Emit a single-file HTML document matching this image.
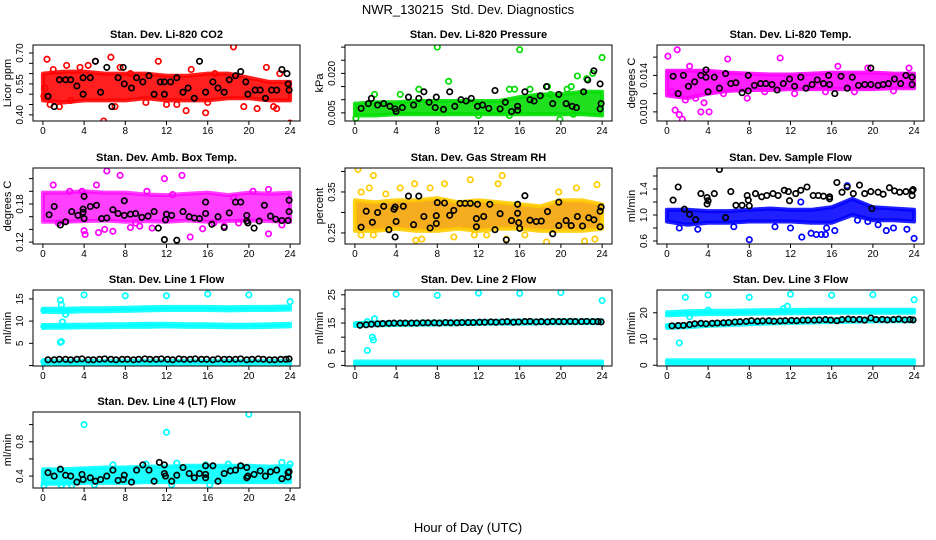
<!DOCTYPE html>
<html><head><meta charset="utf-8"><title>NWR_130215 Std. Dev. Diagnostics</title>
<style>html,body{margin:0;padding:0;background:#fff}svg{display:block;font-family:"Liberation Sans",Arial,sans-serif}</style>
</head><body>
<svg id="chart" width="936" height="540" viewBox="0 0 936 540" xmlns="http://www.w3.org/2000/svg">
<rect x="0" y="0" width="936" height="540" fill="#fff"/>
<text x="468" y="14" font-size="13" text-anchor="middle">NWR_130215&#160; Std. Dev. Diagnostics</text>
<text x="468" y="532" font-size="13" text-anchor="middle">Hour of Day (UTC)</text>
</svg>
<script>
// ---- shared ----
const hourTicks = [0,4,8,12,16,20,24];
const bandHours = [0,2,4,6,8,10,12,14,16,18,20,22,24];
const blackHours = [0.5,1.1,1.6,2.2,2.7,3.3,3.8,4.4,4.9,5.5,6,6.6,7.1,7.7,8.2,8.8,9.3,9.9,10.4,11,11.5,12.1,12.6,13.2,13.7,14.3,14.8,15.4,15.9,16.5,17,17.6,18.1,18.7,19.2,19.8,20.3,20.9,21.4,22,22.5,23.1,23.6,23.9];

// ---- CO2 ----
const co2Lo = [0.47,0.46,0.47,0.47,0.47,0.48,0.47,0.47,0.47,0.48,0.48,0.47,0.47];
const co2Hi = [0.60,0.61,0.61,0.60,0.60,0.60,0.59,0.59,0.60,0.60,0.58,0.56,0.56];
const co2Pts = [[0.4,0.67],[1,0.62],[2.3,0.64],[3.6,0.63],[4.4,0.64],[5.1,0.66],[5.9,0.37],[6.6,0.68],[7.5,0.63],[8.5,0.6],[11.2,0.66],[13,0.45],[13.9,0.42],[14.4,0.62],[15.8,0.41],[16.7,0.6],[18.5,0.73],[19.5,0.44],[20.8,0.43],[21.7,0.63],[22.4,0.44],[22.7,0.43],[24,0.36],[1.6,0.44],[0.7,0.45],[2.7,0.47],[7,0.44],[10,0.46],[12,0.45],[16,0.46],[23,0.6],[0.1,0.49],[0.2,0.53]];
const co2Black = [[0.5,0.49],[1.1,0.44],[1.6,0.57],[2.2,0.57],[2.7,0.57],[3.3,0.54],[3.9,0.58],[3.9,0.5],[4.6,0.58],[5.1,0.66],[5.6,0.51],[6.2,0.63],[6.7,0.44],[7.3,0.58],[7.8,0.63],[7.9,0.55],[8.6,0.53],[9.1,0.58],[9.7,0.56],[10.3,0.59],[10.8,0.5],[11.4,0.56],[11.8,0.56],[11.8,0.5],[12.4,0.56],[13,0.58],[13.6,0.51],[14.1,0.53],[14.7,0.48],[15.2,0.66],[15.8,0.51],[16.5,0.56],[17,0.53],[17.6,0.51],[18.1,0.57],[18.7,0.59],[19.2,0.61],[19.7,0.56],[19.9,0.5],[20.6,0.52],[21.1,0.52],[21.6,0.48],[22.2,0.52],[22.7,0.52],[23.2,0.62],[23.7,0.6],[23.9,0.52],[23.8,0.55]];

// ---- Pressure ----
const prsLo = [0.004,0.004,0.0045,0.0045,0.0045,0.0045,0.0045,0.0045,0.0045,0.0045,0.0045,0.0045,0.004];
const prsHi = [0.0085,0.009,0.009,0.0095,0.0095,0.0095,0.0095,0.0095,0.011,0.012,0.012,0.013,0.013];
const prsPts = [[8,0.030],[16,0.029],[24,0.026],[9.1,0.017],[6.2,0.014],[1.9,0.012],[4.4,0.012],[15.5,0.014],[15,0.014],[21.6,0.019],[22.5,0.018],[23.1,0.020],[0.1,0.003],[19.9,0.0025],[18.7,0.015],[21,0.015],[19,0.012],[12,0.004],[15,0.004],[21.2,0.0045],[17,0.014],[20.6,0.014]];
const prsBlack = [[0.6,0.0067],[1.3,0.0085],[1.6,0.0105],[2.2,0.008],[2.8,0.0085],[3.4,0.0075],[3.9,0.0065],[4,0.0055],[4.6,0.007],[5.2,0.011],[5.7,0.008],[6.2,0.0105],[6.7,0.013],[7.2,0.009],[7.8,0.007],[7.9,0.011],[8.6,0.0063],[9.2,0.013],[9.7,0.0075],[10.3,0.010],[10.8,0.0095],[11.3,0.0105],[11.9,0.0075],[12.4,0.008],[13,0.0067],[13.6,0.0135],[14.1,0.0065],[14.6,0.009],[15.2,0.0055],[15.8,0.006],[15.8,0.0075],[16.5,0.013],[17,0.010],[17.4,0.0095],[18,0.0115],[18.6,0.015],[19.2,0.0085],[19.8,0.012],[20.5,0.0085],[21.1,0.0075],[21.5,0.007],[22.2,0.013],[22.6,0.0175],[23.2,0.021],[23.8,0.016],[23.9,0.0085],[23.8,0.0065]];

// ---- Li-820 Temp ----
const tmpLo = [0.0118,0.0115,0.0120,0.0123,0.0124,0.0124,0.0125,0.0125,0.0125,0.0125,0.0125,0.0126,0.0126];
const tmpHi = [0.0145,0.0145,0.0145,0.0143,0.0142,0.0141,0.0141,0.0142,0.0143,0.0143,0.0143,0.0142,0.0142];
const tmpPts = [[0.1,0.0161],[1,0.0168],[0.8,0.0102],[1.2,0.0097],[1.5,0.0092],[3.3,0.0100],[4.1,0.0100],[2.2,0.0150],[5.9,0.0158],[11,0.0159],[5.5,0.0120],[7.8,0.0115],[12.4,0.012],[9.5,0.0122],[16.6,0.0150],[19.5,0.0148],[23.5,0.0148],[22,0.0123],[18.2,0.0122],[15.4,0.0122],[1.8,0.0113],[3.6,0.011],[0.5,0.0122],[2.8,0.0115]];
const tmpBlack = [[0.6,0.0139],[1.1,0.0120],[1.6,0.0140],[2.1,0.0128],[2.7,0.0133],[3.3,0.0140],[3.8,0.0146],[3.8,0.0138],[4,0.0122],[4.6,0.0138],[5.1,0.0126],[5.7,0.0142],[6.2,0.0131],[6.7,0.0132],[7.3,0.0121],[7.9,0.0140],[7.9,0.0123],[8.5,0.0129],[9.1,0.0131],[9.6,0.0131],[10.2,0.0130],[10.7,0.0124],[11.3,0.0131],[11.9,0.0136],[12.4,0.0128],[13,0.0138],[13.5,0.0126],[14.1,0.0130],[14.6,0.0135],[15.2,0.0131],[15.7,0.0140],[15.8,0.0130],[16.3,0.0120],[16.9,0.0139],[17.5,0.0126],[18,0.0138],[18.6,0.0129],[19.2,0.0130],[19.8,0.0148],[19.8,0.0130],[20.5,0.0129],[21,0.0130],[21.5,0.0131],[22.1,0.0136],[22.7,0.0131],[23.2,0.0140],[23.8,0.0138],[23.8,0.0130]];

// ---- Amb Box Temp ----
const ambLo = [0.152,0.152,0.153,0.154,0.152,0.153,0.152,0.154,0.152,0.153,0.154,0.153,0.152];
const ambHi = [0.198,0.198,0.2,0.198,0.198,0.195,0.194,0.196,0.198,0.194,0.198,0.196,0.198];
const ambPts = [[6.2,0.232],[7.5,0.225],[5.2,0.21],[13.5,0.225],[11.8,0.22],[4,0.138],[4.1,0.132],[5.4,0.135],[6,0.14],[6.8,0.137],[8.5,0.143],[9.4,0.145],[10.1,0.2],[10.6,0.142],[14.3,0.128],[15.5,0.141],[17.6,0.145],[20.4,0.2],[21.9,0.203],[21.9,0.133],[23.2,0.147],[3.8,0.2],[1,0.21],[2.6,0.2],[18.5,0.19],[12.6,0.195],[1.5,0.15],[9,0.15],[16.6,0.15],[19,0.15]];
const ambBlack = [[0.6,0.163],[1.1,0.176],[1.7,0.147],[2.2,0.152],[2.8,0.168],[3.4,0.162],[3.9,0.172],[3.9,0.167],[4,0.157],[4,0.192],[4.6,0.176],[5.2,0.178],[5.7,0.157],[6.2,0.158],[6.8,0.171],[7.3,0.165],[7.9,0.185],[7.9,0.162],[8.5,0.164],[9,0.165],[9.6,0.159],[10.2,0.161],[10.8,0.168],[11.2,0.142],[11.8,0.124],[11.9,0.155],[12,0.164],[12.5,0.162],[13,0.123],[13.6,0.168],[14.2,0.16],[14.7,0.158],[15.2,0.157],[15.8,0.183],[15.8,0.165],[16.4,0.148],[17,0.16],[17.6,0.143],[18.1,0.166],[18.7,0.183],[19.2,0.183],[19.8,0.162],[19.8,0.153],[19.9,0.15],[20.5,0.142],[21,0.153],[21.5,0.178],[22.1,0.161],[22.6,0.156],[23.2,0.154],[23.8,0.154],[23.9,0.186],[23.9,0.168]];

// ---- Gas Stream RH ----
const rhLo = [0.255,0.255,0.26,0.255,0.255,0.26,0.255,0.26,0.26,0.255,0.255,0.255,0.26];
const rhHi = [0.33,0.325,0.33,0.33,0.335,0.325,0.33,0.325,0.32,0.315,0.33,0.33,0.32];
const rhPts = [[0.3,0.405],[0.6,0.35],[1.4,0.36],[1.8,0.39],[5.8,0.37],[7.3,0.36],[8.7,0.37],[11.2,0.38],[13.9,0.37],[14.3,0.39],[23.5,0.368],[21.5,0.36],[0.6,0.245],[1.8,0.245],[5.9,0.232],[6.5,0.235],[9.6,0.24],[11.6,0.245],[18.6,0.228],[22.3,0.23],[23.3,0.235],[14.7,0.235],[19.8,0.35],[4.4,0.36],[3,0.345],[12.8,0.245],[16.5,0.245]];
const rhBlack = [[0.6,0.264],[1.1,0.303],[1.7,0.276],[2.2,0.3],[2.8,0.315],[3.3,0.258],[3.8,0.308],[3.9,0.24],[3.9,0.313],[4,0.278],[4.7,0.315],[5.2,0.34],[5.7,0.27],[6.2,0.34],[6.7,0.29],[7.3,0.262],[7.9,0.292],[7.9,0.273],[8,0.324],[8.7,0.323],[9.2,0.293],[9.6,0.305],[10.2,0.322],[10.7,0.322],[11.2,0.322],[11.8,0.285],[11.9,0.32],[11.8,0.265],[12.5,0.29],[13.1,0.32],[13.6,0.258],[14.1,0.297],[14.7,0.233],[15.2,0.28],[15.8,0.32],[15.8,0.298],[15.9,0.275],[16,0.261],[16.5,0.341],[17,0.281],[17.6,0.278],[18.1,0.279],[18.7,0.302],[19.2,0.248],[19.8,0.268],[19.8,0.325],[20.5,0.28],[21,0.268],[21.6,0.29],[22.1,0.267],[22.7,0.287],[23.2,0.282],[23.8,0.303],[23.9,0.313],[23.8,0.265]];

// ---- Sample Flow ----
const sfLo = [0.9,0.85,0.88,0.88,0.9,0.9,0.9,0.88,0.88,1.0,0.92,0.92,0.9];
const sfHi = [1.08,1.08,1.06,1.06,1.08,1.1,1.08,1.08,1.12,1.25,1.12,1.1,1.08];
const sfPts = [[8,0.62],[13.1,0.66],[14.5,0.7],[15,0.7],[15.4,0.7],[24,0.64],[17.5,1.45],[21.3,0.76],[23.3,0.78],[16.3,0.76],[14,0.72],[13,1.2],[15.5,0.8],[1.2,0.8],[3,0.78],[6.5,0.82],[10.5,0.82],[12,0.8],[18.5,0.92],[19.5,0.9],[20.5,0.85],[22,0.8]];
const sfBlack = [[0.6,1.23],[1.1,1.43],[1.7,1.09],[2.2,1.01],[2.8,0.93],[3.3,1.33],[3.9,1.27],[3.9,1.17],[4,1.22],[4.6,1.33],[5.1,1.7],[5.7,0.96],[6.2,1.36],[6.7,1.15],[7.3,1.15],[7.8,1.3],[7.9,1.23],[8,1.14],[8.6,1.33],[9.2,1.28],[9.7,1.3],[10.3,1.33],[10.8,1.3],[11.4,1.38],[11.8,1.36],[11.9,1.22],[12.5,1.33],[13,1.38],[13.6,1.43],[14.2,1.3],[14.7,1.3],[15.2,1.29],[15.8,1.28],[15.8,1.25],[16.5,1.5],[17,1.35],[17.5,1.43],[18.1,1.33],[18.7,1.46],[19.2,1.33],[19.8,1.36],[19.9,1.1],[20.5,1.35],[21,1.32],[21.6,1.42],[22.1,1.37],[22.6,1.35],[23.2,1.36],[23.8,1.37],[23.9,1.39],[23.8,1.3]];

// ---- Line 1 Flow ----
const l1aLo = [12.1,12.0,12.2,12.2,12.3,12.4,12.5,12.5,12.5,12.4,12.5,12.5,12.6];
const l1aHi = [12.8,12.8,12.9,12.9,13.0,13.1,13.2,13.2,13.2,13.1,13.2,13.2,13.3];
const l1bLo = [8.5,8.5,8.6,8.6,8.7,8.7,8.8,8.7,8.7,8.6,8.6,8.7,8.8];
const l1bHi = [9.1,9.2,9.2,9.3,9.3,9.4,9.4,9.3,9.3,9.2,9.2,9.3,9.4];
const l1cLo = [0.4,0.4,0.4,0.4,0.4,0.4,0.4,0.4,0.4,0.4,0.4,0.4,0.4];
const l1cHi = [1.0,1.0,1.0,1.0,1.0,1.0,1.0,1.0,1.0,1.0,1.0,1.0,1.0];
const l1Pts = [[1.7,14.7],[1.8,13.7],[1.7,5.2],[1.8,5.4],[4,15.9],[8,15.7],[12,15.7],[16,16.1],[20,15.9],[24,14.4],[2.2,11.5],[1.9,9.8],[0.1,12.4],[0.1,8.8],[0.1,0.9]];
const l1Black = [1.3,1.3,1.4,1.4,1.3,1.4,1.5,1.3,1.3,1.4,1.5,1.4,1.3,1.4,1.4,1.3,1.4,1.5,1.4,1.4,1.5,1.4,1.3,1.5,1.4,1.4,1.5,1.4,1.4,1.3,1.5,1.4,1.4,1.4,1.5,1.3,1.4,1.5,1.4,1.3,1.3,1.4,1.4,1.5];

// ---- Line 2 Flow ----
const l2aLo = [14.0,14.2,14.3,14.4,14.5,14.6,14.7,14.8,14.8,14.9,14.9,15.0,15.0];
const l2aHi = [15.0,15.2,15.3,15.4,15.5,15.6,15.7,15.8,15.9,15.9,16.0,16.0,16.0];
const l2bLo = [0.2,0.2,0.2,0.2,0.2,0.2,0.2,0.2,0.2,0.2,0.2,0.2,0.2];
const l2bHi = [1.4,1.4,1.4,1.4,1.4,1.4,1.4,1.4,1.4,1.4,1.4,1.4,1.4];
const l2Pts = [[0.2,14.5],[1.2,5.3],[1.7,10],[1.8,9],[1.9,16.5],[4,25.2],[8,24.8],[12,25.6],[16,25.5],[20,25.8],[24,23],[1.2,15.5]];
const l2Black = [14.2,14.4,14.6,14.7,14.8,14.9,15.0,15.0,15.0,15.0,15.0,15.1,15.1,15.1,15.0,15.2,15.1,15.1,15.2,15.2,15.2,15.3,15.3,15.4,15.3,15.4,15.5,15.3,15.4,15.5,15.6,15.4,15.5,15.4,15.6,15.5,15.5,15.6,15.5,15.5,15.6,15.5,15.5,15.4];

// ---- Line 3 Flow ----
const l3aLo = [19.0,19.3,19.5,19.5,19.6,19.7,19.8,19.9,20.0,20.0,20.0,20.0,20.0];
const l3aHi = [20.2,20.6,20.8,20.8,20.9,21.0,21.1,21.2,21.2,21.2,21.2,21.2,21.2];
const l3bLo = [14.3,14.5,15.0,15.3,15.6,15.9,16.1,16.3,16.5,16.6,16.7,16.8,16.8];
const l3bHi = [15.3,15.6,16.0,16.3,16.6,16.9,17.1,17.3,17.5,17.6,17.7,17.8,17.8];
const l3cLo = [0.6,0.6,0.6,0.6,0.6,0.6,0.6,0.6,0.6,0.6,0.6,0.6,0.6];
const l3cHi = [1.9,1.9,1.9,1.9,1.9,1.9,1.9,1.9,1.9,1.9,1.9,1.9,1.9];
const l3Pts = [[0.2,14.8],[1.2,8.5],[1.8,25.9],[4,26.8],[8,25.9],[12,27.1],[16,26.7],[20,26.9],[24,25],[11.3,21.5],[11.7,22.5],[2.2,18.5],[4,21]];
const l3Black = [15.0,15.1,15.2,15.5,15.8,16.0,15.8,16.0,16.1,16.2,16.3,16.5,16.6,16.7,17.0,16.8,16.9,17.0,16.8,16.9,17.0,17.1,17.0,17.2,17.2,17.2,17.3,17.4,17.2,17.0,17.4,17.6,17.4,17.5,17.2,18.0,17.4,17.5,17.3,17.4,17.6,17.3,17.4,17.3];

// ---- Line 4 Flow ----
const l4Lo = [0.31,0.31,0.32,0.32,0.32,0.33,0.33,0.33,0.33,0.33,0.33,0.33,0.33];
const l4Hi = [0.48,0.48,0.49,0.5,0.5,0.51,0.51,0.52,0.52,0.52,0.52,0.51,0.52];
const l4Pts = [[4,1.0],[12,0.91],[20,1.12],[0.1,0.29],[1.8,0.29],[2.8,0.29],[23.2,0.56],[24,0.54],[6.8,0.53],[10,0.54],[13,0.55],[15.8,0.53],[18,0.54],[5,0.3],[12.5,0.3],[16.2,0.3]];
const l4Black = [[0.5,0.44],[1.1,0.4],[1.7,0.48],[2.2,0.41],[2.7,0.4],[3.3,0.33],[3.8,0.42],[3.9,0.36],[4.6,0.38],[5.1,0.34],[5.6,0.36],[6.2,0.4],[6.8,0.47],[7.3,0.35],[7.9,0.41],[7.8,0.36],[8.6,0.33],[9.1,0.47],[9.7,0.53],[10.3,0.47],[10.8,0.34],[11.3,0.56],[11.8,0.53],[11.8,0.43],[11.9,0.4],[12.5,0.34],[13,0.41],[13.6,0.5],[14.2,0.43],[14.7,0.38],[15.2,0.43],[15.8,0.52],[15.8,0.38],[15.8,0.42],[16.5,0.52],[17,0.34],[17.6,0.43],[18.2,0.46],[18.7,0.47],[19.2,0.52],[19.8,0.5],[19.8,0.38],[19.9,0.4],[20.5,0.42],[21.1,0.46],[21.6,0.4],[22.1,0.45],[22.7,0.47],[23.2,0.37],[23.8,0.39],[23.9,0.45],[23.8,0.44]];

// ---- tick arrays ----
const co2Ticks=[0.40,0.45,0.50,0.55,0.60,0.65,0.70], co2Labels=["0.40","","","0.55","","","0.70"];
const prsTicks=[0.005,0.010,0.015,0.020,0.025,0.030], prsLabels=["0.005","","","0.020","",""];
const tmpTicks=[0.010,0.012,0.014,0.016], tmpLabels=["0.010","","0.014",""];
const ambTicks=[0.12,0.14,0.16,0.18,0.20,0.22], ambLabels=["0.12","","","0.18","",""];
const rhTicks=[0.25,0.30,0.35,0.40], rhLabels=["0.25","","0.35",""];
const sfTicks=[0.6,0.8,1.0,1.2,1.4,1.6], sfLabels=["0.6","","1.0","","1.4",""];
const l1Ticks=[0,5,10,15], l1Labels=["","5","10","15"];
const l2Ticks=[0,5,10,15,20,25], l2Labels=["0","5","","15","","25"];
const l3Ticks=[0,10,20], l3Labels=["0","10","20"];
const l4Ticks=[0.4,0.6,0.8,1.0], l4Labels=["0.4","","0.8",""];

// ---- layout (not data) ----
const NS="http://www.w3.org/2000/svg";
const svg=document.getElementById('chart');
const colLeft=[33,345,657], rowTop=[45,168,290,412], boxW=267, boxH=76;
function mk(tag,attrs,parent){const e=document.createElementNS(NS,tag);for(const k in attrs)e.setAttribute(k,attrs[k]);(parent||svg).appendChild(e);return e;}

const panels=[
 {key:'co2',title:'Stan. Dev. Li-820 CO2',ylab:'Licor ppm',c:0,r:0,ymin:0.37,ymax:0.739,col:'#ff0000',bands:[[co2Lo,co2Hi]],pts:co2Pts,black:co2Black,ticks:co2Ticks,labels:co2Labels},
 {key:'pressure',title:'Stan. Dev. Li-820 Pressure',ylab:'kPa',c:1,r:0,ymin:0.0019,ymax:0.0308,col:'#00dd00',bands:[[prsLo,prsHi]],pts:prsPts,black:prsBlack,ticks:prsTicks,labels:prsLabels},
 {key:'li820-temp',title:'Stan. Dev. Li-820 Temp.',ylab:'degrees C',c:2,r:0,ymin:0.009,ymax:0.01733,col:'#ff00ff',bands:[[tmpLo,tmpHi]],pts:tmpPts,black:tmpBlack,ticks:tmpTicks,labels:tmpLabels},
 {key:'amb-box-temp',title:'Stan. Dev. Amb. Box Temp.',ylab:'degrees C',c:0,r:1,ymin:0.117,ymax:0.2367,col:'#ff00ff',op:0.75,bands:[[ambLo,ambHi]],pts:ambPts,black:ambBlack,ticks:ambTicks,labels:ambLabels},
 {key:'gas-stream-rh',title:'Stan. Dev. Gas Stream RH',ylab:'percent',c:1,r:1,ymin:0.223,ymax:0.4085,col:'#f4a000',pc:'#ffcc00',bands:[[rhLo,rhHi]],pts:rhPts,black:rhBlack,ticks:rhTicks,labels:rhLabels},
 {key:'sample-flow',title:'Stan. Dev. Sample Flow',ylab:'ml/min',c:2,r:1,ymin:0.554,ymax:1.723,col:'#0000ff',bands:[[sfLo,sfHi]],pts:sfPts,black:sfBlack,ticks:sfTicks,labels:sfLabels},
 {key:'line1-flow',title:'Stan. Dev. Line 1 Flow',ylab:'ml/min',c:0,r:2,ymin:-0.1,ymax:17,col:'#00ffff',bands:[[l1aLo,l1aHi],[l1bLo,l1bHi],[l1cLo,l1cHi]],pts:l1Pts,blackY:l1Black,ticks:l1Ticks,labels:l1Labels},
 {key:'line2-flow',title:'Stan. Dev. Line 2 Flow',ylab:'ml/min',c:1,r:2,ymin:-0.2,ymax:26.7,col:'#00ffff',bands:[[l2aLo,l2aHi],[l2bLo,l2bHi]],pts:l2Pts,blackY:l2Black,ticks:l2Ticks,labels:l2Labels},
 {key:'line3-flow',title:'Stan. Dev. Line 3 Flow',ylab:'ml/min',c:2,r:2,ymin:-0.3,ymax:28.7,col:'#00ffff',bands:[[l3aLo,l3aHi],[l3bLo,l3bHi],[l3cLo,l3cHi]],pts:l3Pts,blackY:l3Black,ticks:l3Ticks,labels:l3Labels},
 {key:'line4-flow',title:'Stan. Dev. Line 4 (LT) Flow',ylab:'ml/min',c:0,r:3,ymin:0.261,ymax:1.147,col:'#00ffff',bands:[[l4Lo,l4Hi]],pts:l4Pts,black:l4Black,ticks:l4Ticks,labels:l4Labels}
];

panels.forEach(p=>{
  const L=colLeft[p.c], T=rowTop[p.r];
  const xs=h=>L+(h+0.96)/25.92*boxW;
  const ys=v=>T+boxH-(v-p.ymin)/(p.ymax-p.ymin)*boxH;
  const g=mk('g',{});
  
  
  const clip=mk('clipPath',{id:'clip-'+p.key},g);
  mk('rect',{x:L,y:T,width:boxW,height:boxH},clip);
  const plot=mk('g',{'clip-path':'url(#clip-'+p.key+')'},g);
  p.bands.forEach((b,bi)=>{
    let d='';
    bandHours.forEach((h,i)=>{d+=(i?'L':'M')+xs(h).toFixed(1)+','+ys(b[1][i]).toFixed(1);});
    for(let i=bandHours.length-1;i>=0;i--) d+='L'+xs(bandHours[i]).toFixed(1)+','+ys(b[0][i]).toFixed(1);
    const path=mk('path',{d:d+'Z',fill:p.col,stroke:p.pc||p.col,'stroke-width':4,'stroke-linejoin':'round','fill-opacity':p.op||0.88,'stroke-opacity':p.op||0.88},plot);
    
    
  });
  p.pts.forEach(pt=>{
    const c=mk('circle',{cx:xs(pt[0]).toFixed(1),cy:ys(pt[1]).toFixed(1),r:2.7,fill:'none',stroke:p.pc||p.col,'stroke-width':1.7},plot);
    
    
  });
  const blk=p.black||(p.blackY?blackHours.map((h,i)=>[h,p.blackY[i]]):[]);
  blk.forEach(pt=>{
    const c=mk('circle',{cx:xs(pt[0]).toFixed(1),cy:ys(pt[1]).toFixed(1),r:2.7,fill:'none',stroke:'#000','stroke-width':1.7},plot);
    
    
  });
  const box=mk('rect',{x:L,y:T,width:boxW,height:boxH,fill:'none',stroke:'#000','stroke-width':1},g);
  
  
  const t=mk('text',{x:L+boxW/2,y:T-7,'font-size':11,'font-weight':'bold','text-anchor':'middle'},g);
  t.textContent=p.title;
  
  
  const yt=mk('text',{x:0,y:0,'font-size':11,'text-anchor':'middle',transform:'translate('+(L-22)+','+(T+boxH/2)+') rotate(-90)'},g);
  yt.textContent=p.ylab;
  
  
  hourTicks.forEach(h=>{
    const x=xs(h);
    mk('line',{x1:x,x2:x,y1:T+boxH,y2:T+boxH+4,stroke:'#000','stroke-width':1},g);
    const tl=mk('text',{x:x,y:T+boxH+13,'font-size':10,'text-anchor':'middle'},g);
    tl.textContent=String(h);
    
    
  });
  p.ticks.forEach((v,i)=>{
    const y=ys(v);
    mk('line',{x1:L-4,x2:L,y1:y,y2:y,stroke:'#000','stroke-width':1},g);
    if(p.labels[i]){
      const tl=mk('text',{x:0,y:0,'font-size':10,'text-anchor':'middle',transform:'translate('+(L-10)+','+y.toFixed(1)+') rotate(-90)'},g);
      tl.textContent=p.labels[i];
      
      
    }
  });
});
</script>
</body></html>
